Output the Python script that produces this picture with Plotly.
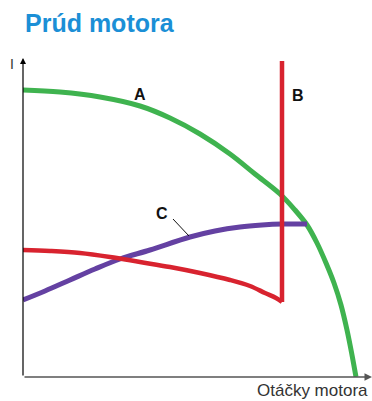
import plotly.graph_objects as go

# Curve A (green)
a_x = [0, 37, 77, 117, 147, 177, 207, 232, 257, 272, 284, 294, 303, 311, 318, 324, 329, 333]
a_y = [287, 285, 280, 271, 259, 243, 223, 203, 183, 167, 152, 134, 114, 94, 72, 47, 22, 0]

# Curve B (red): falling curve, then vertical jump
b_x = [0, 27, 57, 87, 117, 147, 177, 207, 227, 242, 253, 259, 259]
b_y = [127, 126, 124, 120, 115, 110, 104, 97, 91, 84, 79, 75, 316]

# Curve C (purple)
c_x = [0, 22, 47, 72, 97, 127, 167, 192, 217, 239, 259, 284]
c_y = [77, 86, 97, 108, 118, 127, 140, 146, 150, 152, 153, 153]

labels = ["A", "B", "C"]
label_x = [117, 275, 139]
label_y = [283, 282, 164]

XMAX, YMAX = 349, 317

GREEN = "#3fb34f"
RED = "#d8232f"
PURPLE = "#6441a2"
BLUE = "#1b8fd6"
FONT = "Liberation Sans, Arial, sans-serif"

fig = go.Figure()
fig.add_trace(go.Scatter(x=a_x, y=a_y, mode="lines", line=dict(color=GREEN, width=5, shape="spline")))
fig.add_trace(go.Scatter(x=c_x, y=c_y, mode="lines", line=dict(color=PURPLE, width=5, shape="spline")))
fig.add_trace(go.Scatter(x=b_x[:-1], y=b_y[:-1], mode="lines", line=dict(color=RED, width=4.5, shape="spline")))
fig.add_trace(go.Scatter(x=b_x[-2:], y=b_y[-2:], mode="lines", line=dict(color=RED, width=4.5)))

# leader line for C
fig.add_shape(type="line", x0=150, y0=158, x1=166, y1=141, line=dict(color="#111", width=1))


def px(v):
    return v / XMAX


def py(v):
    return v / YMAX


def label(x, y, text, size, color, xanchor="center"):
    return dict(x=px(x), y=py(y), xref="paper", yref="paper", text=text, showarrow=False,
                xanchor=xanchor, yanchor="middle", font=dict(family=FONT, size=size, color=color))


ann = []
# axes with arrows
ann.append(dict(x=0, y=319, ax=0, ay=0, xref="x", yref="y", axref="x", ayref="y",
                showarrow=True, arrowhead=2, arrowsize=1, arrowwidth=1.2, arrowcolor="#000", text=""))
ann.append(dict(x=XMAX, y=0, ax=0, ay=0, xref="x", yref="y", axref="x", ayref="y",
                showarrow=True, arrowhead=2, arrowsize=1, arrowwidth=1.5, arrowcolor="#555", text=""))
for t, lx, ly in zip(labels, label_x, label_y):
    ann.append(label(lx, ly, f"<b>{t}</b>", 16, "#111"))
ann.append(label(-11, 313, "I", 14, "#333"))
ann.append(label(347, -13, "Otáčky motora", 17, "#333", xanchor="right"))
ann.append(label(0, 354, "<b>Prúd motora</b>", 25, BLUE, xanchor="left"))

fig.update_layout(
    width=372, height=401,
    margin=dict(l=23, r=0, t=60, b=24),
    paper_bgcolor="white", plot_bgcolor="white",
    showlegend=False,
    xaxis=dict(range=[0, XMAX], visible=False, fixedrange=True),
    yaxis=dict(range=[0, YMAX], visible=False, fixedrange=True),
    annotations=ann,
)

fig.write_html("out.html", config={"displayModeBar": False},
               post_script="document.body.style.margin='0';")
